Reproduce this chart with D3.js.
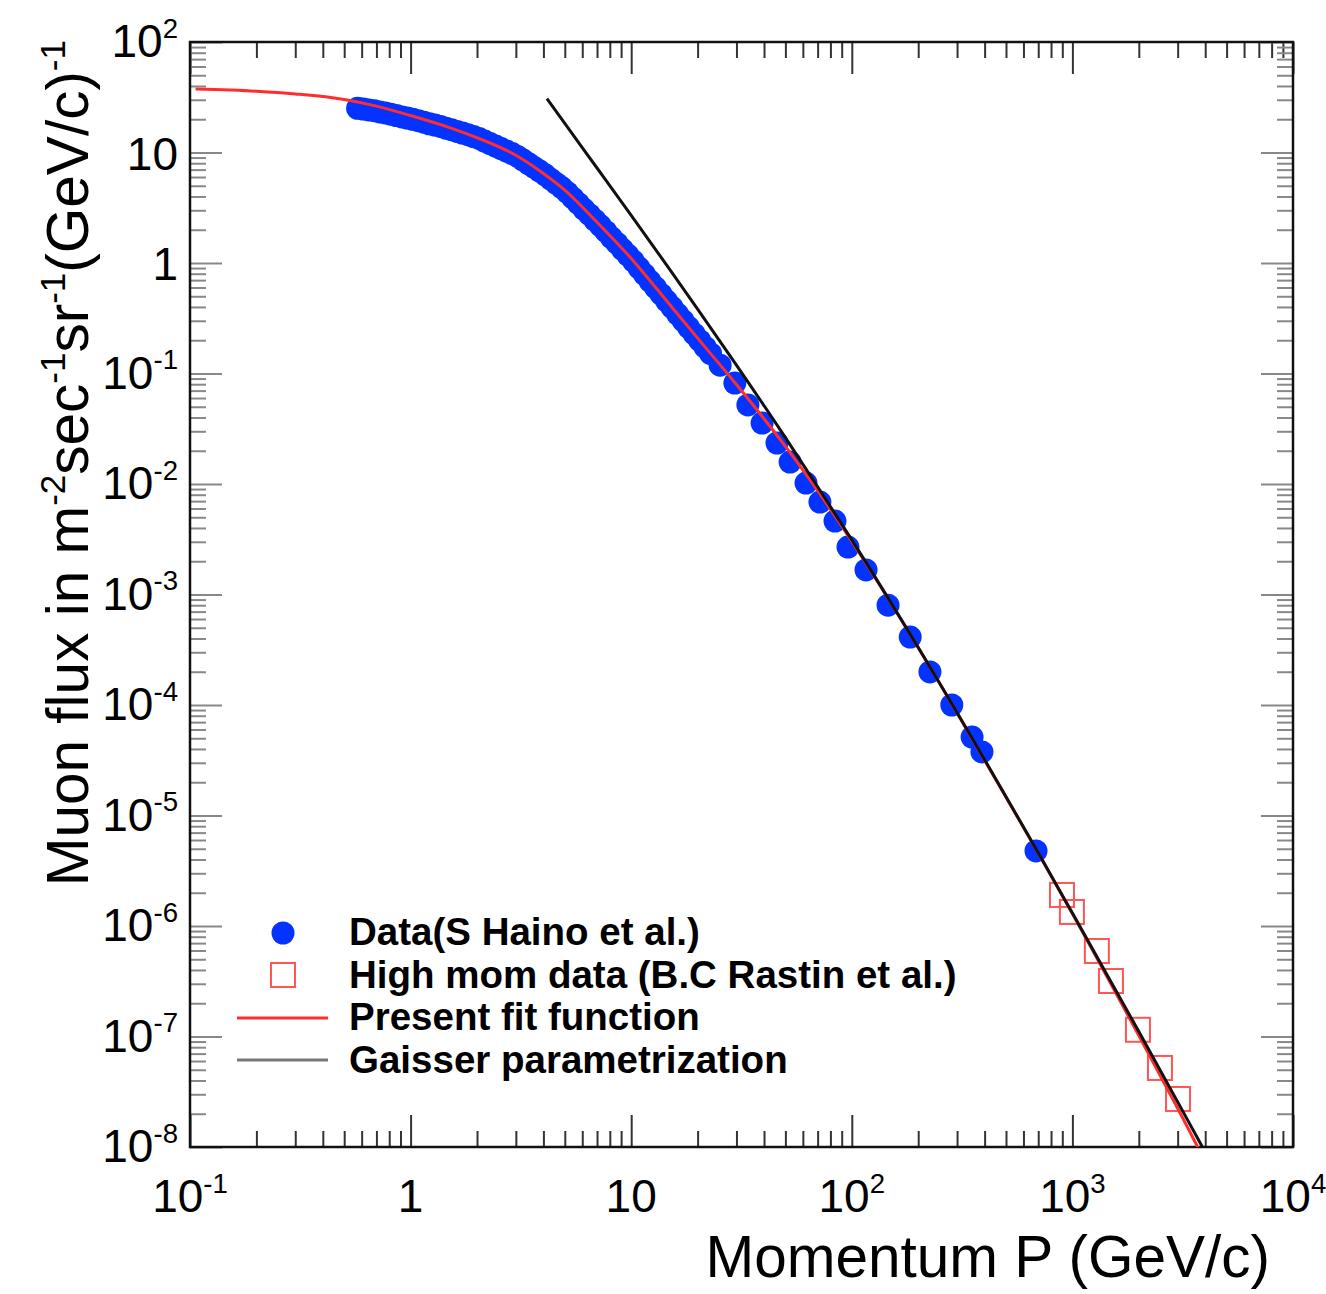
<!DOCTYPE html>
<html>
<head>
<meta charset="utf-8">
<script src="https://cdn.jsdelivr.net/npm/d3@7"></script>
<style>
  body { margin: 0; background: #fff; }
  svg { display: block; font-family: "Liberation Sans", Arial, Helvetica, sans-serif; }
</style>
</head>
<body>
<div id="chart"></div>
<script>
// --- data (momentum in GeV/c, flux in m^-2 s^-1 sr^-1 (GeV/c)^-1) ---
const hainoP = [0.575, 0.610, 0.646, 0.684, 0.724, 0.767, 0.813, 0.861, 0.912, 0.966,
  1.023, 1.084, 1.148, 1.216, 1.288, 1.365, 1.445, 1.531, 1.622, 1.718, 1.820, 1.928,
  2.042, 2.163, 2.291, 2.427, 2.570, 2.723, 2.884, 3.055, 3.236, 3.428, 3.631, 3.846,
  4.074, 4.315, 4.571, 4.842, 5.129, 5.433, 5.754, 6.095, 6.457, 6.839, 7.244, 7.674,
  8.128, 8.610, 9.120, 9.661, 10.23, 10.84, 11.48, 12.16, 12.88, 13.65, 14.45, 15.31,
  16.22, 17.18, 18.20, 19.28, 20.42, 21.63, 22.91,
  25.3, 29.5, 33.8, 39.2, 45.8, 52.5, 62.0, 71.7, 83.9, 96.1, 116, 146, 184, 226, 284, 351, 389, 684];
const hainoF = [25.1, 24.7, 24.3, 23.9, 23.3, 22.8, 22.2, 21.6, 21.0, 20.5,
  19.95, 19.4, 18.8, 18.2, 17.7, 17.2, 16.6, 16.1, 15.5, 15.0, 14.5, 13.95,
  13.4, 12.7, 12.06, 11.44, 10.86, 10.31, 9.78, 9.21, 8.54, 7.91, 7.33, 6.80,
  6.28, 5.74, 5.25, 4.81, 4.35, 3.88, 3.46, 3.08, 2.75, 2.45, 2.18, 1.93,
  1.70, 1.51, 1.33, 1.18, 1.04, 0.905, 0.789, 0.687, 0.599, 0.522, 0.455, 0.397,
  0.345, 0.301, 0.262, 0.228, 0.199, 0.173, 0.151,
  0.119, 0.082, 0.0519, 0.0356, 0.0235, 0.0158, 0.0102, 6.87e-3, 4.62e-3, 2.69e-3, 1.67e-3,
  8.0e-4, 4.12e-4, 1.99e-4, 1.0e-4, 5.13e-5, 3.76e-5, 4.78e-6];

const rastinP = [897, 995, 1291, 1495, 1982, 2494, 3012];
const rastinF = [1.91e-6, 1.34e-6, 5.94e-7, 3.18e-7, 1.15e-7, 5.19e-8, 2.72e-8];

const fitP = [0.106, 0.2, 0.3, 0.5, 0.7, 1, 1.5, 2, 3, 4, 5, 7, 10, 15, 20, 30, 50, 70, 100, 200, 400, 700, 1000, 2000, 3000, 4000];
const fitF = [37.6, 35.9, 33.9, 30.2, 26.3, 21.6, 16.8, 13.6, 9.44, 6.46, 4.57, 2.34, 1.10, 0.417, 0.209, 0.0794,
  0.0219, 8.71e-3, 3.02e-3, 3.31e-4, 3.16e-5, 4.57e-6, 1.29e-6, 1.02e-7, 2.24e-8, 7.4e-9];

const gaisserP = [4.15, 5, 7, 10, 15, 20, 30, 50, 70, 100, 200, 400, 700, 1000, 2000, 3000, 4000];
const gaisserF = [30.7, 18.3, 7.24, 2.70, 0.867, 0.383, 0.119, 0.0263, 9.44e-3, 3.12e-3, 3.31e-4, 3.2e-5,
  4.61e-6, 1.31e-6, 1.11e-7, 2.56e-8, 9.0e-9];

const xTickValues = [0.1, 1, 10, 100, 1000, 10000];
const xTickBase = ["10", "1", "10", "10", "10", "10"];
const xTickSup = ["-1", "", "", "2", "3", "4"];

const yTickValues = [1e2, 1e1, 1, 1e-1, 1e-2, 1e-3, 1e-4, 1e-5, 1e-6, 1e-7, 1e-8];
const yTickBase = ["10", "10", "1", "10", "10", "10", "10", "10", "10", "10", "10"];
const yTickSup = ["2", "", "", "-1", "-2", "-3", "-4", "-5", "-6", "-7", "-8"];

const legendLabels = ["Data(S Haino et al.)", "High mom data (B.C Rastin et al.)",
  "Present fit function", "Gaisser parametrization"];

// --- layout ---
const W = 1326, H = 1294;
const padL = 190, padR = 1293, padT = 42, padB = 1147;
const blue = "#0433ff", red = "#ff2d2d";

const svg = d3.select("#chart").append("svg")
  .attr("width", W).attr("height", H);

const x = d3.scaleLog().domain([0.1, 1e4]).range([padL, padR]);
const y = d3.scaleLog().domain([1e-8, 1e2]).range([padB, padT]);

svg.append("clipPath").attr("id", "plot")
  .append("rect").attr("x", padL).attr("y", padT)
  .attr("width", padR - padL).attr("height", padB - padT);

// minor tick values
const xMinor = [];
d3.range(-1, 4).forEach(d => { for (let k = 2; k <= 9; k++) xMinor.push(k * Math.pow(10, d)); });
const yMinor = [];
d3.range(-8, 2).forEach(d => { for (let k = 2; k <= 9; k++) yMinor.push(k * Math.pow(10, d)); });

function tickAxis(axis, values, size, tx, ty, color) {
  const g = svg.append("g")
    .attr("transform", `translate(${tx},${ty})`)
    .call(axis.tickValues(values).tickSize(-size).tickFormat(""));
  g.select(".domain").remove();
  g.selectAll(".tick line").attr("stroke", color).attr("stroke-width", 2);
}

tickAxis(d3.axisBottom(x), xMinor, 16, 0, padB, "#333");
tickAxis(d3.axisBottom(x), xTickValues, 32, 0, padB, "#333");
tickAxis(d3.axisTop(x), xMinor, 16, 0, padT, "#333");
tickAxis(d3.axisTop(x), xTickValues, 32, 0, padT, "#333");
tickAxis(d3.axisLeft(y), yMinor, 16, padL, 0, "#888");
tickAxis(d3.axisLeft(y), yTickValues, 32, padL, 0, "#888");
tickAxis(d3.axisRight(y), yMinor, 16, padR, 0, "#888");
tickAxis(d3.axisRight(y), yTickValues, 32, padR, 0, "#888");

// frame
svg.append("rect")
  .attr("x", padL).attr("y", padT)
  .attr("width", padR - padL).attr("height", padB - padT)
  .attr("fill", "none").attr("stroke", "#111").attr("stroke-width", 2.5);

// tick labels
function powLabel(g, base, sup, size) {
  g.append("tspan").text(base);
  if (sup) {
    g.append("tspan").attr("font-size", size * 0.6).attr("dy", -size * 0.42).text(sup);
  }
}

xTickValues.forEach((v, i) => {
  const t = svg.append("text")
    .attr("x", x(v)).attr("y", 1212)
    .attr("text-anchor", "middle")
    .attr("font-size", 46);
  powLabel(t, xTickBase[i], xTickSup[i], 46);
});

yTickValues.forEach((v, i) => {
  const t = svg.append("text")
    .attr("x", 178).attr("y", y(v) + (yTickSup[i] ? 15 : 17))
    .attr("text-anchor", "end")
    .attr("font-size", 46);
  powLabel(t, yTickBase[i], yTickSup[i], 46);
});

// axis titles
svg.append("text")
  .attr("x", 1270).attr("y", 1277)
  .attr("text-anchor", "end")
  .attr("font-size", 58.5)
  .text("Momentum P (GeV/c)");

const yt = svg.append("text")
  .attr("transform", "translate(88,40) rotate(-90)")
  .attr("text-anchor", "end")
  .attr("font-size", 58.5);
[["Muon flux in m", "-2"], ["sec", "-1"], ["sr", "-1"], ["(GeV/c)", "-1"]].forEach(([s, p], i) => {
  yt.append("tspan").attr("dy", i ? 23 : 0).text(s);
  yt.append("tspan").attr("font-size", 35).attr("dy", -23).text(p);
});

// data
const plot = svg.append("g").attr("clip-path", "url(#plot)");

plot.selectAll("circle.haino")
  .data(d3.zip(hainoP, hainoF))
  .enter().append("circle")
  .attr("class", "haino")
  .attr("cx", d => x(d[0])).attr("cy", d => y(d[1]))
  .attr("r", 11.5)
  .attr("fill", blue);

plot.selectAll("rect.rastin")
  .data(d3.zip(rastinP, rastinF))
  .enter().append("rect")
  .attr("class", "rastin")
  .attr("x", d => x(d[0]) - 12).attr("y", d => y(d[1]) - 12)
  .attr("width", 24).attr("height", 24)
  .attr("fill", "none").attr("stroke", "#ff5555").attr("stroke-width", 2);

const line = d3.line()
  .x(d => x(d[0])).y(d => y(d[1]))
  .curve(d3.curveMonotoneX);

plot.append("path")
  .datum(d3.zip(fitP, fitF))
  .attr("d", line)
  .attr("fill", "none").attr("stroke", red).attr("stroke-width", 3);

plot.append("path")
  .datum(d3.zip(gaisserP, gaisserF))
  .attr("d", line)
  .attr("fill", "none").attr("stroke", "#111").attr("stroke-width", 3);

// legend
const legY = [945, 988, 1030, 1073];
const leg = svg.append("g");
legendLabels.forEach((s, i) => {
  leg.append("text")
    .attr("x", 349).attr("y", legY[i])
    .attr("font-size", 38.5).attr("font-weight", "bold")
    .text(s);
});
leg.append("circle").attr("cx", 283).attr("cy", 933).attr("r", 11.5).attr("fill", blue);
leg.append("rect").attr("x", 271).attr("y", 963).attr("width", 24).attr("height", 24)
  .attr("fill", "none").attr("stroke", "#ff5555").attr("stroke-width", 2);
leg.append("line").attr("x1", 237).attr("x2", 328).attr("y1", 1018).attr("y2", 1018)
  .attr("stroke", red).attr("stroke-width", 3);
leg.append("line").attr("x1", 237).attr("x2", 328).attr("y1", 1060).attr("y2", 1060)
  .attr("stroke", "#777").attr("stroke-width", 3);
</script>
</body>
</html>
